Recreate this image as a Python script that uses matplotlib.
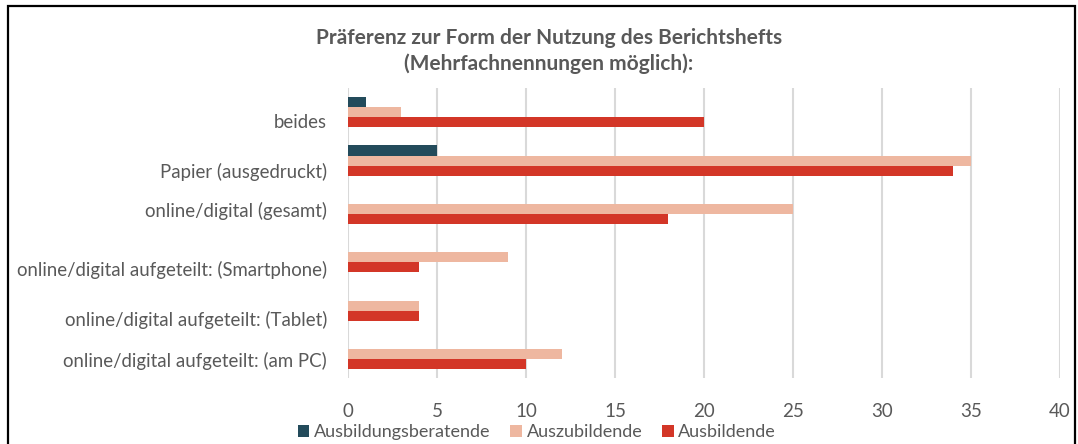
import matplotlib
matplotlib.use("Agg")
import matplotlib.pyplot as plt
import matplotlib.transforms as mtransforms
from matplotlib.patches import Rectangle, Patch
import numpy as np

plt.rcParams['font.family'] = ['Lato', 'DejaVu Sans']

categories = ["beides",
              "Papier (ausgedruckt)",
              "online/digital (gesamt)",
              "online/digital aufgeteilt: (Smartphone)",
              "online/digital aufgeteilt: (Tablet)",
              "online/digital aufgeteilt: (am PC)"]
beratende = [1, 5, 0, 0, 0, 0]
azubis = [3, 35, 25, 9, 4, 12]
ausbildende = [20, 34, 18, 4, 4, 10]
series_names = ["Ausbildungsberatende", "Auszubildende", "Ausbildende"]
xticks = [0, 5, 10, 15, 20, 25, 30, 35, 40]

colors = ["#234B5B", "#EEB7A0", "#D33627"]
grey = "#595959"

fig = plt.figure(figsize=(10.78, 4.44), dpi=100)
ax = fig.add_axes([0.3228, 0.1486, 0.6605, 0.6532])

y = np.arange(len(categories))
h = 0.207
for k, vals in enumerate([beratende, azubis, ausbildende]):
    ax.barh(y + (k - 1) * h, vals, height=h, color=colors[k], zorder=3)

ax.set_ylim(len(categories) - 0.5, -0.5)
ax.set_xlim(0, 40)
ax.set_xticks(xticks)
ax.set_yticks(y)
ax.set_yticklabels(categories)
ax.xaxis.grid(True, color="#D9D9D9", linewidth=1.5, zorder=0)
ax.tick_params(axis="both", length=0, labelcolor=grey)
ax.tick_params(axis="y", pad=15, labelsize=13.4)
ax.tick_params(axis="x", pad=18, labelsize=13.5)
for s in ax.spines.values():
    s.set_visible(False)

# Excel puts the category labels a bit below the bar groups
label_shift = [9, 10, 1, 11, 13, 6]
for lab, dy in zip(ax.get_yticklabels(), label_shift):
    lab.set_transform(lab.get_transform() + mtransforms.Affine2D().translate(0, -dy))

fig.text(0.509, 0.885, "Präferenz zur Form der Nutzung des Berichtshefts\n(Mehrfachnennungen möglich):",
         ha="center", va="center", fontsize=15, fontweight="bold", color=grey, linespacing=1.3)

handles = [Patch(facecolor=c) for c in colors]
fig.legend(handles, series_names, loc="center", bbox_to_anchor=(0.498, 0.026), ncol=3,
           frameon=False, fontsize=13, labelcolor=grey, handlelength=0.65, handleheight=0.65,
           handletextpad=0.25, columnspacing=1.1, borderaxespad=0, borderpad=0)

# frame of the chart area (cut at the bottom in the screenshot)
fig.patches.append(Rectangle((8 / 1078, -0.1), 1067 / 1078, (444 - 6) / 444 + 0.1,
                             transform=fig.transFigure, fill=False, edgecolor="black",
                             linewidth=1.6))

fig.savefig("out.png", dpi=100)
